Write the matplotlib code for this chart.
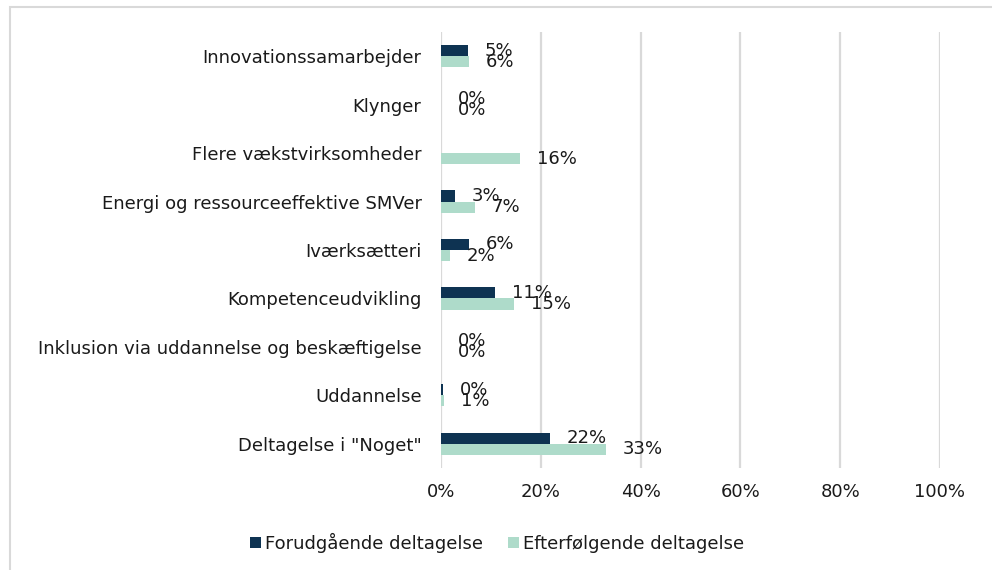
import matplotlib
matplotlib.use("Agg")
import matplotlib.pyplot as plt
from matplotlib.patches import Rectangle
import numpy as np

categories = ["Innovationssamarbejder", "Klynger", "Flere vækstvirksomheder",
              "Energi og ressourceeffektive SMVer", "Iværksætteri", "Kompetenceudvikling",
              "Inklusion via uddannelse og beskæftigelse", "Uddannelse", 'Deltagelse i "Noget"']
forud = [0.054, 0.0, 0.0, 0.028, 0.056, 0.108, 0.0, 0.004, 0.219]
efter = [0.056, 0.0, 0.158, 0.068, 0.018, 0.146, 0.0, 0.006, 0.331]
forud_labels = ["5%", "0%", "", "3%", "6%", "11%", "0%", "0%", "22%"]
efter_labels = ["6%", "0%", "16%", "7%", "2%", "15%", "0%", "1%", "33%"]
series_names = ["Forudgående deltagelse", "Efterfølgende deltagelse"]
xticks = [0, 0.2, 0.4, 0.6, 0.8, 1.0]
xtick_labels = ["0%", "20%", "40%", "60%", "80%", "100%"]

dark = "#0E3352"
light = "#AEDBCA"
plt.rcParams['font.family'] = ['DejaVu Sans']

fig = plt.figure(figsize=(9.92, 5.70), dpi=100)
ax = fig.add_axes([441/992, 1-468/570, 499/992, 436/570])

y = np.arange(len(categories))
h = 0.23
ax.barh(y - h/2, forud, height=h, color=dark, label=series_names[0], zorder=3)
ax.barh(y + h/2, efter, height=h, color=light, label=series_names[1], zorder=3)

fs = 13
for i in range(len(categories)):
    if forud_labels[i]:
        ax.annotate(forud_labels[i], (forud[i], y[i] - h/2), xytext=(12, 0),
                    textcoords="offset points", ha="left", va="center", fontsize=fs,
                    color="#1a1a1a", zorder=4)
    if efter_labels[i]:
        ax.annotate(efter_labels[i], (efter[i], y[i] + h/2), xytext=(12, 0),
                    textcoords="offset points", ha="left", va="center", fontsize=fs,
                    color="#1a1a1a", zorder=4)

ax.set_xlim(0, 1.0)
ax.set_ylim(len(categories) - 0.5, -0.5)
ax.set_yticks(y)
ax.set_yticklabels(categories, fontsize=fs, color="#1a1a1a")
ax.set_xticks(xticks)
ax.set_xticklabels(xtick_labels, fontsize=fs, color="#1a1a1a")
ax.tick_params(axis="y", length=0, pad=14)
ax.tick_params(axis="x", length=0, pad=11)
for s in ax.spines.values():
    s.set_visible(False)
ax.grid(axis="x", color="#D9D9D9", linewidth=1.6, zorder=0)
ax.set_axisbelow(True)

fig.legend(loc="center", bbox_to_anchor=(497/992, 1-543/570), ncol=2, frameon=False,
           fontsize=fs, handlelength=0.6, handleheight=0.6, handletextpad=0.2,
           columnspacing=1.4, labelcolor="#1a1a1a")

fig.patches.append(Rectangle((10/992, -0.1), 1.2, 1 - 7/570 + 0.1, transform=fig.transFigure,
                             fill=False, edgecolor="#D9D9D9", linewidth=1.5, zorder=0))

fig.savefig("out.png", dpi=100)
